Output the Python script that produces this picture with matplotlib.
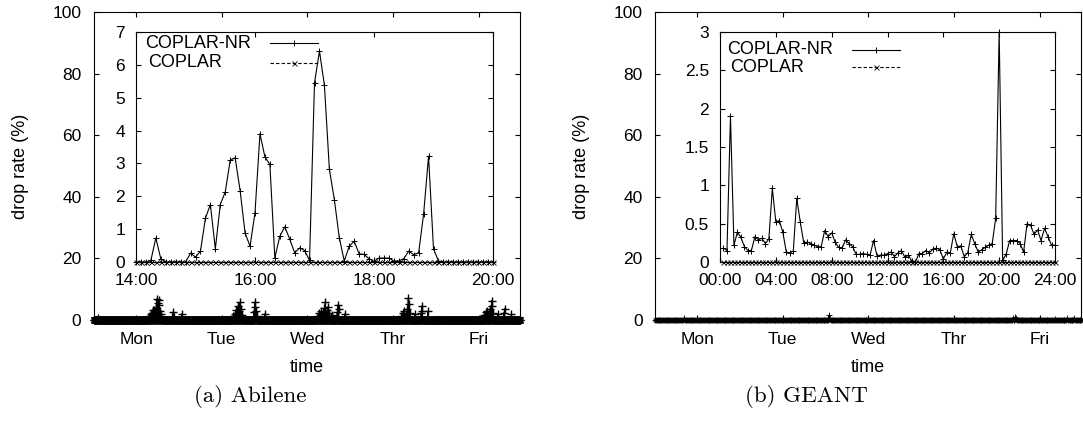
import numpy as np
import matplotlib
matplotlib.use("Agg")
import matplotlib.pyplot as plt
from matplotlib.ticker import FixedLocator, FixedFormatter

plt.rcParams['font.family'] = ['Liberation Sans', 'DejaVu Sans']

# ---------------- data ----------------
day_labels = ["Mon", "Tue", "Wed", "Thr", "Fri"]
day_hours = [0, 24, 48, 72, 96]
main_xlim = (-11.8, 107.6)          # hours relative to Monday 00:00
main_yticks = [0, 20, 40, 60, 80, 100]

# Abilene, main plot: nonzero COPLAR-NR samples (hour, drop rate %), 5-min sampling
abilene_main_step_h = 1.0 / 12
abilene_spike_hours = [-10.6,
    3.3, 3.6, 3.9, 4.2, 4.5, 4.8, 5.0, 5.3, 5.5, 5.7, 5.9, 6.1, 6.3, 6.5, 6.7, 6.9, 7.1, 7.3, 10.1, 10.3, 10.5, 12.8,
    27.0, 27.3, 27.6, 27.9, 28.2, 28.5, 28.8, 29.1, 29.4, 29.7, 30.0, 33.0, 33.2, 33.4, 33.6, 33.8, 36.1,
    50.6, 51.0, 51.4, 51.8, 52.2, 52.6, 53.0, 53.4, 53.8, 54.2, 54.6, 55.0, 56.4, 56.6, 56.8, 58.5,
    74.4, 74.8, 75.2, 75.6, 76.0, 76.3, 76.6, 76.9, 78.1, 79.8, 80.0, 80.2, 81.8,
    97.2, 97.6, 98.0, 98.4, 98.8, 99.2, 99.6, 99.8, 100.0, 101.4, 103.1, 103.3, 105.2]
abilene_spike_values = [0.7,
    0.3, 0.8, 1.4, 1.8, 2.4, 3.1, 3.3, 2.2, 4.0, 3.1, 6.9, 5.5, 6.4, 4.8, 2.9, 1.9, 0.9, 0.4, 1.0, 2.5, 1.1, 2.0,
    0.5, 1.2, 2.0, 3.2, 2.4, 4.5, 3.0, 5.8, 3.6, 1.5, 0.6, 2.5, 5.8, 4.2, 3.0, 1.2, 2.0,
    0.5, 1.3, 2.2, 2.8, 1.8, 3.8, 5.8, 3.2, 4.2, 2.4, 1.0, 1.5, 2.5, 5.0, 3.6, 2.0,
    1.2, 2.4, 3.0, 2.0, 3.5, 7.0, 5.2, 2.3, 2.0, 2.2, 4.5, 3.0, 2.8,
    0.8, 1.5, 2.5, 3.0, 2.2, 3.6, 6.3, 4.4, 2.2, 2.0, 2.4, 3.7, 2.0]

# GEANT, main plot: nonzero COPLAR-NR samples (hour, %), 15-min sampling
geant_main_step_h = 0.25
geant_spike_hours = [-3.8, -3.5, 37.0, 37.25, 88.5, 89.25, 89.5, 100.5, 103.75, 105.75]
geant_spike_values = [0.5, 0.3, 1.6, 0.5, 0.6, 1.0, 0.7, 0.4, 0.6, 0.8]

# Abilene inset: 14:00-20:00, 5-min samples
abilene_inset_start_h = 14.0
abilene_inset_step_h = 5.0 / 60
abilene_inset_nr = [0, 0, 0, 0.05, 0.73, 0.1, 0, 0, 0, 0, 0, 0.27, 0.15, 0.33, 1.33, 1.75,
                    0.4, 1.75, 2.13, 3.1, 3.17, 2.17, 0.88, 0.48, 1.5, 3.9, 3.2, 2.97, 0.13,
                    0.78, 1.07, 0.7, 0.28, 0.43, 0.35, 0.05, 5.45, 6.42, 5.38, 2.82, 1.9, 0.74,
                    0.03, 0.48, 0.63, 0.25, 0.23, 0.1, 0.02, 0.12, 0.12, 0.12, 0.03, 0.03, 0.1,
                    0.33, 0.22, 0.28, 1.45, 3.22, 0.4, 0.03,
                    0, 0, 0, 0, 0, 0, 0, 0, 0, 0, 0]
abilene_inset_coplar = [0] * len(abilene_inset_nr)
abilene_inset_xticks = [14, 16, 18, 20]
abilene_inset_xlabels = ["14:00", "16:00", "18:00", "20:00"]
abilene_inset_yticks = [0, 1, 2, 3, 4, 5, 6, 7]

# GEANT inset: 00:00-24:00, 15-min samples
geant_inset_start_h = 0.25
geant_inset_step_h = 0.25
geant_inset_nr = [0.18, 0.15, 1.9, 0.22, 0.39, 0.32, 0.2, 0.15, 0.15, 0.33, 0.29, 0.31, 0.24,
                  0.3, 0.96, 0.52, 0.54, 0.39, 0.13, 0.12, 0.14, 0.83, 0.52, 0.25, 0.26, 0.24,
                  0.22, 0.2, 0.2, 0.41, 0.33, 0.38, 0.26, 0.19, 0.18, 0.29, 0.24, 0.2, 0.1, 0.1,
                  0.11, 0.1, 0.09, 0.28, 0.08, 0.09, 0.09, 0.11, 0.13, 0.07, 0.12, 0.15, 0.06,
                  0.09, 0.01, 0.0, 0.11, 0.11, 0.15, 0.12, 0.17, 0.18, 0.16, 0.04, 0.13, 0.12,
                  0.37, 0.2, 0.21, 0.07, 0.12, 0.36, 0.24, 0.13, 0.16, 0.19, 0.22, 0.24, 0.57,
                  3.0, 0.02, 0.1, 0.28, 0.28, 0.28, 0.24, 0.13, 0.5, 0.48, 0.36, 0.42, 0.28,
                  0.44, 0.33, 0.22, 0.22]
geant_inset_coplar = [0] * len(geant_inset_nr)
geant_inset_xticks = [0, 4, 8, 12, 16, 20, 24]
geant_inset_xlabels = ["00:00", "04:00", "08:00", "12:00", "16:00", "20:00", "24:00"]
geant_inset_yticks = [0, 0.5, 1, 1.5, 2, 2.5, 3]
geant_inset_ylabels = ["0", "0.5", "1", "1.5", "2", "2.5", "3"]

series_names = ["COPLAR-NR", "COPLAR"]

# ---------------- figure ----------------
W, H = 1083, 425
fig = plt.figure(figsize=(W / 100, H / 100), dpi=100)

def fx(px):
    return px / W

def fy(py):
    return 1 - py / H

TICK_FS = 12.5
LW = 0.8

def style_axes(ax, length=3.5):
    for s in ax.spines.values():
        s.set_linewidth(0.8)
    ax.tick_params(direction='in', length=length, width=0.8, top=True, right=True,
                   labelsize=TICK_FS, pad=8)

def main_series(step, spike_h, spike_v):
    t = np.arange(main_xlim[0], main_xlim[1] + step / 2, step)
    y = np.zeros_like(t)
    for h, v in zip(spike_h, spike_v):
        idx = int(round((h - main_xlim[0]) / step))
        y[idx] = v
    return t, y

def draw_main(left_px, step, spike_h, spike_v, ms, mew):
    ax = fig.add_axes([fx(left_px), fy(320), fx(426), 308 / H])
    t, y = main_series(step, spike_h, spike_v)
    ax.plot(t, np.zeros_like(t), color='black', lw=LW, ls=(0, (3, 2)), marker='x',
            ms=ms, mew=mew, clip_on=False)
    ax.plot(t, y, color='black', lw=LW, marker='+', ms=ms + 1, mew=mew,
            clip_on=False)
    ax.set_xlim(*main_xlim)
    ax.set_ylim(0, 100)
    ax.xaxis.set_major_locator(FixedLocator(day_hours))
    ax.xaxis.set_major_formatter(FixedFormatter(day_labels))
    ax.yaxis.set_major_locator(FixedLocator(main_yticks))
    style_axes(ax)
    ax.tick_params(axis='y', pad=9)
    ax.tick_params(axis='x', pad=9)
    return ax

def draw_inset(rect_px, start, step, nr, coplar, xticks, xlabels, ylim, yticks, ylabels,
               leg):
    l, t, r, b = rect_px
    ax = fig.add_axes([fx(l), fy(b), fx(r - l), (b - t) / H])
    ax.set_facecolor('white')
    n = len(nr)
    tt = start + step * np.arange(n)
    ax.plot(tt, coplar, color='black', lw=LW, ls=(0, (3, 2)), marker='x', ms=3.6,
            mew=0.6, clip_on=False, zorder=3)
    ax.plot(tt, nr, color='black', lw=LW, marker='+', ms=4.6, mew=0.7,
            clip_on=False, zorder=4)
    ax.set_xlim(xticks[0], xticks[-1])
    ax.set_ylim(*ylim)
    ax.xaxis.set_major_locator(FixedLocator(xticks))
    ax.xaxis.set_major_formatter(FixedFormatter(xlabels))
    ax.yaxis.set_major_locator(FixedLocator(yticks))
    if ylabels is not None:
        ax.yaxis.set_major_formatter(FixedFormatter(ylabels))
    style_axes(ax)
    # gnuplot-style key: text, then line sample
    tx, ty, lx0, lx1 = leg
    styles = [dict(ls='-', marker='+', ms=4.6, mew=0.7),
              dict(ls=(0, (3, 2)), marker='x', ms=3.6, mew=0.6)]
    for i, name in enumerate(series_names):
        ax.text(tx[i], ty[i], name, transform=ax.transAxes, fontsize=13,
                ha='left', va='center')
        ax.plot([lx0, lx1], [ty[i], ty[i]], transform=ax.transAxes, color='black',
                lw=LW, ls=styles[i]['ls'])
        ax.plot([(lx0 + lx1) / 2], [ty[i]], transform=ax.transAxes, color='black',
                marker=styles[i]['marker'], ms=styles[i]['ms'], mew=styles[i]['mew'])
    return ax

# left panel (Abilene)
draw_main(94, abilene_main_step_h, abilene_spike_hours, abilene_spike_values, 5.0, 1.0)
draw_inset((136, 32, 493, 262), abilene_inset_start_h, abilene_inset_step_h,
           abilene_inset_nr, abilene_inset_coplar, abilene_inset_xticks,
           abilene_inset_xlabels, (0, 7), abilene_inset_yticks, None,
           ([0.025, 0.034], [0.952, 0.867], 0.375, 0.51))

# right panel (GEANT)
draw_main(655, geant_main_step_h, geant_spike_hours, geant_spike_values, 3.0, 0.6)
draw_inset((720, 32, 1055, 262), geant_inset_start_h, geant_inset_step_h,
           geant_inset_nr, geant_inset_coplar, geant_inset_xticks,
           geant_inset_xlabels, (0, 3), geant_inset_yticks, geant_inset_ylabels,
           ([0.022, 0.03], [0.922, 0.847], 0.393, 0.537))

# axis labels
for xc in (21, 582):
    fig.text(fx(xc), fy(166), "drop rate (%)", rotation=90, ha='center', va='center',
             fontsize=13)
for xc in (307, 868):
    fig.text(fx(xc), fy(367), "time", ha='center', va='center', fontsize=13)

# subfigure captions
fig.text(fx(250), fy(397), "(a) Abilene", family='cmr10', fontsize=16.5,
         ha='center', va='center')
fig.text(fx(806), fy(397), "(b) GEANT", family='cmr10', fontsize=16.5,
         ha='center', va='center')

fig.savefig("out.png", dpi=100)
